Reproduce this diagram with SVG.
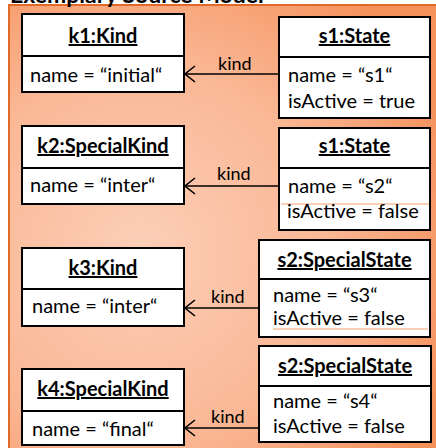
<svg xmlns="http://www.w3.org/2000/svg" width="436" height="448" viewBox="0 0 436 448">
  <defs>
    <radialGradient id="frameFill" cx="0.3" cy="0.55" r="0.75">
      <stop offset="0" stop-color="#FCCFB8"/>
      <stop offset="0.55" stop-color="#FAB896"/>
      <stop offset="1" stop-color="#F5925C"/>
    </radialGradient>
    <marker id="openArrow" viewBox="0 0 12 18" refX="11" refY="9" markerWidth="12" markerHeight="18" markerUnits="userSpaceOnUse" orient="auto">
      <path d="M1,1 L11,9 L1,17" fill="none" stroke="#000" stroke-width="1.6"/>
    </marker>
    <style>
      .frame { fill: url(#frameFill); stroke: #E26A28; stroke-width: 2; }
      .title { font-family: Lato, "Liberation Sans", sans-serif; font-weight: bold; font-size: 23px; fill: #000; }
      .box { fill: #fff; stroke: #000; stroke-width: 2; }
      .sep { stroke: #000; stroke-width: 2; }
      .head { font-family: Lato, "Liberation Sans", sans-serif; font-weight: bold; font-size: 20px; fill: #000; text-decoration: underline; text-anchor: middle; }
      .attr { font-family: Lato, "Liberation Sans", sans-serif; font-size: 20px; fill: #000; }
      .role { font-family: Lato, "Liberation Sans", sans-serif; font-size: 18px; fill: #000; }
      .link { stroke: #000; stroke-width: 1.6; fill: none; }
      .seam { stroke: #F4A06E; stroke-width: 1.2; }
    </style>
  </defs>

  <!-- model frame and caption -->
  <rect class="frame" x="9" y="5" width="440" height="450"/>
  <text class="title" x="10" y="3">Exemplary Source Model</text>

  <!-- kind links -->
  <g id="connectors">
    <line class="link" x1="279" y1="74" x2="185" y2="74" marker-end="url(#openArrow)"/>
    <text class="role" x="218" y="70">kind</text>
    <line class="link" x1="279" y1="186" x2="185" y2="186" marker-end="url(#openArrow)"/>
    <text class="role" x="217" y="180">kind</text>
    <line class="link" x1="259" y1="308" x2="185" y2="308" marker-end="url(#openArrow)"/>
    <text class="role" x="211" y="303">kind</text>
    <line class="link" x1="259" y1="428" x2="185" y2="428" marker-end="url(#openArrow)"/>
    <text class="role" x="211" y="423">kind</text>
  </g>

  <g id="k1">
    <rect class="box" x="22" y="14" width="162" height="78"/>
    <line class="sep" x1="22" y1="56" x2="184" y2="56"/>
    <text class="head" x="103" y="43">k1:Kind</text>
    <text class="attr" x="30" y="82">name = “initial“</text>
  </g>

  <g id="s1a">
    <rect class="box" x="279" y="17" width="151" height="101"/>
    <line class="sep" x1="279" y1="57" x2="430" y2="57"/>
    <text class="head" x="354.5" y="43">s1:State</text>
    <text class="attr" x="288" y="82">name = “s1“</text>
    <text class="attr" x="288" y="108">isActive = true</text>
  </g>

  <g id="k2">
    <rect class="box" x="22" y="126" width="162" height="78"/>
    <line class="sep" x1="22" y1="168" x2="184" y2="168"/>
    <text class="head" x="103" y="153">k2:SpecialKind</text>
    <text class="attr" x="30" y="192">name = “inter“</text>
  </g>

  <g id="s1b">
    <rect class="box" x="279" y="128" width="151" height="102"/>
    <line class="sep" x1="279" y1="168" x2="430" y2="168"/>
    <line class="seam" x1="281" y1="204" x2="429" y2="204"/>
    <text class="head" x="354.5" y="153">s1:State</text>
    <text class="attr" x="288" y="193">name = “s2“</text>
    <text class="attr" x="287" y="218">isActive = false</text>
  </g>

  <g id="k3">
    <rect class="box" x="22" y="248" width="162" height="78"/>
    <line class="sep" x1="22" y1="289" x2="184" y2="289"/>
    <text class="head" x="103" y="275">k3:Kind</text>
    <text class="attr" x="32" y="313">name = “inter“</text>
  </g>

  <g id="s2a">
    <rect class="box" x="259" y="240" width="171" height="97"/>
    <line class="sep" x1="259" y1="279" x2="430" y2="279"/>
    <line class="seam" x1="273" y1="329" x2="428" y2="329"/>
    <text class="head" x="344.5" y="267">s2:SpecialState</text>
    <text class="attr" x="273" y="302">name = “s3“</text>
    <text class="attr" x="273" y="325">isActive = false</text>
  </g>

  <g id="k4">
    <rect class="box" x="22" y="369" width="162" height="76"/>
    <line class="sep" x1="22" y1="411" x2="184" y2="411"/>
    <text class="head" x="103" y="396">k4:SpecialKind</text>
    <text class="attr" x="32" y="436">name = “final“</text>
  </g>

  <g id="s2b">
    <rect class="box" x="259" y="346" width="172" height="96"/>
    <line class="sep" x1="259" y1="386" x2="431" y2="386"/>
    <text class="head" x="345" y="373">s2:SpecialState</text>
    <text class="attr" x="273" y="408">name = “s4“</text>
    <text class="attr" x="273" y="433">isActive = false</text>
  </g>
</svg>
